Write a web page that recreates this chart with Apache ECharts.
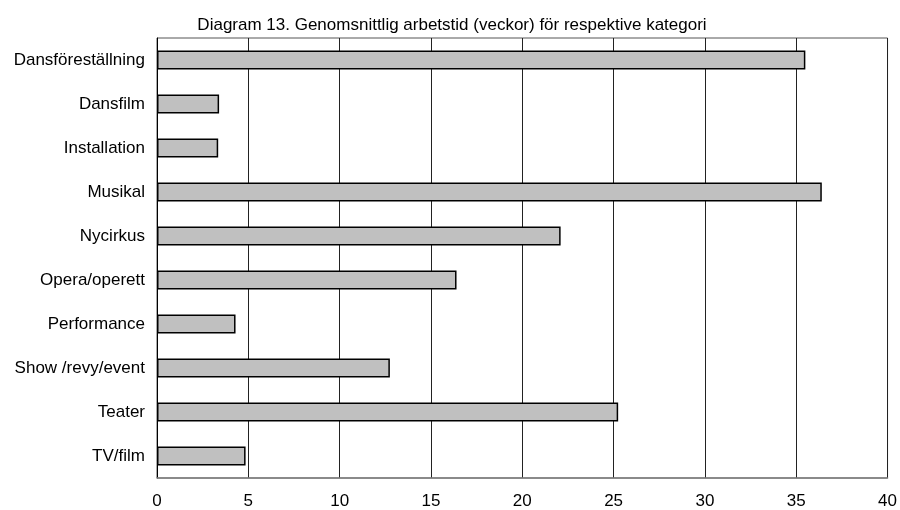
<!DOCTYPE html>
<html>
<head>
<meta charset="utf-8">
<script src="https://cdn.jsdelivr.net/npm/echarts@6/dist/echarts.min.js"></script>
<style>html,body{margin:0;padding:0;background:#fff}#c{width:900px;height:510px}</style>
</head>
<body>
<div id="c"></div>
<script>
const titleText = 'Diagram 13. Genomsnittlig arbetstid (veckor) för respektive kategori';
const categories = ['Dansföreställning','Dansfilm','Installation','Musikal','Nycirkus','Opera/operett','Performance','Show /revy/event','Teater','TV/film'];
const values = [35.5, 3.4, 3.35, 36.4, 22.1, 16.4, 4.3, 12.75, 25.25, 4.85];
const xTicks = [0, 5, 10, 15, 20, 25, 30, 35, 40];

const chart = echarts.init(document.getElementById('c'));
chart.setOption({
  animation: false,
  backgroundColor: '#fff',
  title: {
    text: titleText,
    left: 447, top: 12, textAlign: 'center',
    textStyle: {fontFamily: 'Liberation Sans, Arial', fontSize: 17, fontWeight: 'normal', color: '#000'}
  },
  grid: {left: 157, right: 9, top: 38, bottom: 30, show: true, borderColor: '#555', borderWidth: 1},
  xAxis: {
    type: 'value', min: xTicks[0], max: xTicks[xTicks.length-1], interval: 5,
    axisLine: {show: true, lineStyle: {color: '#808080', width: 1.5}},
    axisTick: {show: false},
    splitLine: {show: true, lineStyle: {color: '#222', width: 1}},
    axisLabel: {fontFamily: 'Liberation Sans, Arial', fontSize: 17, color: '#000', margin: 15}
  },
  yAxis: {
    type: 'category', data: categories, inverse: true,
    axisLine: {show: true, lineStyle: {color: '#000', width: 1}},
    axisTick: {show: false},
    axisLabel: {fontFamily: 'Liberation Sans, Arial', fontSize: 17, color: '#000', margin: 12}
  },
  series: [{
    type: 'bar', data: values, barWidth: 19,
    itemStyle: {color: '#c0c0c0', borderColor: '#000', borderWidth: 1.5}
  }]
});
</script>
</body>
</html>
